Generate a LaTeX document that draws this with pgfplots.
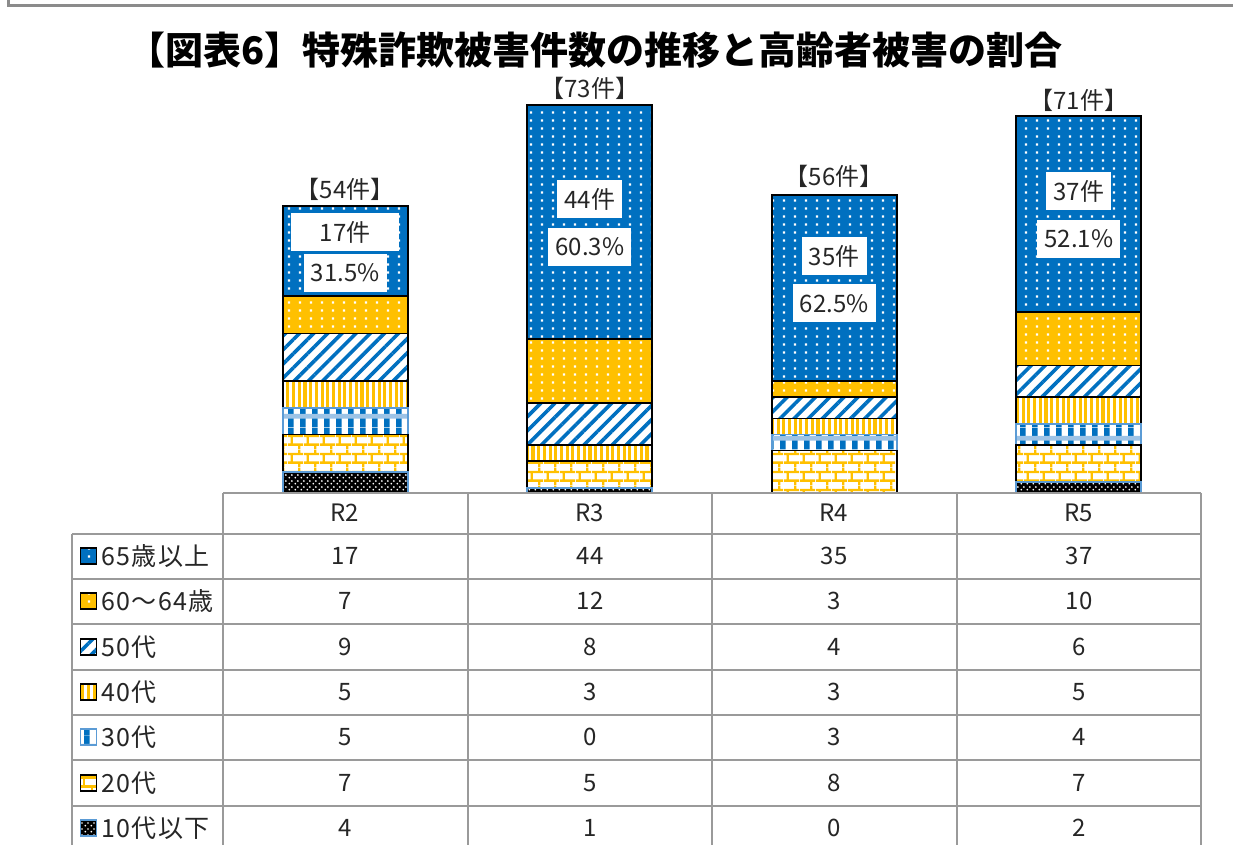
\documentclass[border=0pt]{standalone}
\usepackage{fontspec}
\setmainfont{Noto Sans CJK JP}
\newfontfamily\rowfont{Noto Sans CJK JP}[LetterSpace=5]
\usepackage{pgfplots}
\pgfplotsset{compat=1.18}
\usetikzlibrary{patterns.meta}
\definecolor{cblue}{HTML}{0070C0}
\definecolor{cgold}{HTML}{FFC000}
\definecolor{clb}{HTML}{5B9BD5}
\definecolor{cgrid}{HTML}{9A9A9A}
\definecolor{ctext}{HTML}{262626}
\newcommand\fs[1]{\fontsize{#1}{#1}\selectfont}

\pgfdeclarepattern{
  name=MyDots, type=uncolored,
  bottom left={\pgfpoint{0pt}{0pt}}, top right={\pgfpoint{10.5pt}{7.5pt}},
  tile size={\pgfpoint{10.5pt}{7.5pt}},
  code={
    \pgfpathrectangle{\pgfpoint{4.1pt}{2.6pt}}{\pgfpoint{2.3pt}{2.3pt}}
    \pgfusepath{fill}
  }
}
\pgfdeclarepattern{
  name=MyFine, type=uncolored,
  bottom left={\pgfpoint{0pt}{0pt}}, top right={\pgfpoint{6pt}{6pt}},
  tile size={\pgfpoint{6pt}{6pt}},
  code={
    \pgfpathcircle{\pgfpoint{1.5pt}{1.5pt}}{1.05pt}
    \pgfpathcircle{\pgfpoint{4.5pt}{4.5pt}}{1.05pt}
    \pgfusepath{fill}
  }
}
\pgfdeclarepattern{
  name=MyBricks, type=uncolored,
  bottom left={\pgfpoint{0pt}{0pt}}, top right={\pgfpoint{16pt}{18pt}},
  tile size={\pgfpoint{16pt}{18pt}},
  code={
    \pgfsetlinewidth{2.5pt}
    \pgfpathmoveto{\pgfpoint{0pt}{4.5pt}}\pgfpathlineto{\pgfpoint{16pt}{4.5pt}}
    \pgfpathmoveto{\pgfpoint{0pt}{13.5pt}}\pgfpathlineto{\pgfpoint{16pt}{13.5pt}}
    \pgfpathmoveto{\pgfpoint{4pt}{4.5pt}}\pgfpathlineto{\pgfpoint{4pt}{13.5pt}}
    \pgfpathmoveto{\pgfpoint{12pt}{13.5pt}}\pgfpathlineto{\pgfpoint{12pt}{18pt}}
    \pgfpathmoveto{\pgfpoint{12pt}{0pt}}\pgfpathlineto{\pgfpoint{12pt}{4.5pt}}
    \pgfusepath{stroke}
  }
}
\pgfdeclarepattern{
  name=MyThirty, type=colored,
  bottom left={\pgfpoint{0pt}{0pt}}, top right={\pgfpoint{12pt}{22pt}},
  tile size={\pgfpoint{12pt}{22pt}},
  code={
    \pgfsetfillcolor{cblue}
    \pgfpathrectangle{\pgfpoint{0pt}{0pt}}{\pgfpoint{6pt}{22pt}}
    \pgfusepath{fill}
    \pgfsetfillcolor{clb!60}
    \pgfpathrectangle{\pgfpoint{0pt}{8.5pt}}{\pgfpoint{12pt}{5pt}}
    \pgfusepath{fill}
  }
}

\tikzset{
  pA/.style={preaction={fill=cblue}, preaction={pattern=MyDots, pattern color=white}},
  pB/.style={preaction={fill=cgold}, preaction={pattern=MyDots, pattern color=white}},
  pC/.style={preaction={fill=white}, preaction={pattern={Lines[angle=45, distance=10pt, line width=3.6pt]}, pattern color=cblue}},
  pD/.style={preaction={fill=cgold}, preaction={pattern={Lines[angle=90, distance=5.7pt, line width=2.6pt]}, pattern color=white}},
  pE/.style={preaction={fill=white}, preaction={pattern=MyThirty}},
  pF/.style={preaction={fill=white}, preaction={pattern=MyBricks, pattern color=cgold}},
  pG/.style={preaction={fill=black}, preaction={pattern=MyFine, pattern color=white}},
  lbl/.style={font=\fs{24}, text=ctext},
  box/.style={font=\fs{24}, text=ctext, fill=white, inner xsep=7pt, minimum height=38pt},
}

\begin{document}
\begin{tikzpicture}[x=1pt,y=1pt]
\useasboundingbox (0,0) rectangle (1233,845);
\fill[white] (0,0) rectangle (1233,845);

\begin{axis}[
  at={(223pt,352pt)}, anchor=south west,
  scale only axis, width=978pt, height=425.2pt,
  xmin=-0.5, xmax=3.5, ymin=0, ymax=80,
  hide axis, clip=false,
  ybar stacked, bar width=125pt,
]
\addplot[draw=clb, line width=1.8pt, pG] coordinates {(0,4) (1,1) (2,0) (3,2)};
\addplot[draw=black, line width=1.8pt, pF] coordinates {(0,7) (1,5) (2,8) (3,7)};
\addplot[draw=clb, line width=1.8pt, pE] coordinates {(0,5) (1,0) (2,3) (3,4)};
\addplot[draw=black, line width=1.8pt, pD] coordinates {(0,5) (1,3) (2,3) (3,5)};
\addplot[draw=black, line width=1.8pt, pC] coordinates {(0,9) (1,8) (2,4) (3,6)};
\addplot[draw=black, line width=1.8pt, pB] coordinates {(0,7) (1,12) (2,3) (3,10)};
\addplot[draw=black, line width=1.8pt, pA] coordinates {(0,17) (1,44) (2,35) (3,37)};

\node[lbl] at (axis cs:0,57.2) {【54件】};
\node[lbl] at (axis cs:1,76.2) {【73件】};
\node[lbl] at (axis cs:2,59.6) {【56件】};
\node[lbl] at (axis cs:3,73.8) {【71件】};

\coordinate (a0) at (axis cs:0,49.1);
\coordinate (b0) at (axis cs:0,41.4);
\coordinate (a1) at (axis cs:1,55.3);
\coordinate (b1) at (axis cs:1,46.3);
\coordinate (a2) at (axis cs:2,44.6);
\coordinate (b2) at (axis cs:2,35.7);
\coordinate (a3) at (axis cs:3,56.8);
\coordinate (b3) at (axis cs:3,47.8);
\end{axis}

\node[box, minimum width=108pt] at (a0) {17件};
\node[box] at (b0) {31.5\%};
\node[box] at (a1) {44件};
\node[box] at (b1) {60.3\%};
\node[box] at (a2) {35件};
\node[box] at (b2) {62.5\%};
\node[box] at (a3) {37件};
\node[box] at (b3) {52.1\%};

% title
\node[font=\fs{38}\bfseries, text=black] at (595,795) {【図表6】特殊詐欺被害件数の推移と高齢者被害の割合};

% frame
\draw[cgrid!90!black, line width=3pt] (8,845) -- (8,839) -- (1233,839);

% table grid
\begin{scope}[cgrid, line width=2.4pt]
\draw (223,352) -- (1201,352);
\foreach \py in {534,579,624,670,715,760,806} {\draw (72,845-\py) -- (1201,845-\py);}
\draw (72,311) -- (72,-5);
\foreach \px in {223,468,712,957,1201} {\draw (\px,352) -- (\px,-5);}
\end{scope}

% header
\foreach \x/\t in {345/R2,590/R3,834/R4,1079/R5} {\node[lbl] at (\x,332) {\t};}

% row labels with keys
\foreach \y/\t/\s/\c in {289/65歳以上/pA/black, 244/60～64歳/pB/black, 198/50代/pC/black, 153/40代/pD/black, 108/30代/pE/clb, 62/20代/pF/black, 17/10代以下/pG/clb} {
  \node[font=\rowfont\fs{25}, text=ctext, anchor=west] at (98,\y) {\t};
  \draw[\s, draw=\c, line width=1.6pt] (80.5,\y-8) rectangle (96.5,\y+8);
}

% values
\foreach \y/\a/\b/\c/\d in {289/17/44/35/37, 244/7/12/3/10, 198/9/8/4/6, 153/5/3/3/5, 108/5/0/3/4, 62/7/5/8/7, 17/4/1/0/2} {
  \node[lbl] at (345,\y) {\a};
  \node[lbl] at (590,\y) {\b};
  \node[lbl] at (834,\y) {\c};
  \node[lbl] at (1079,\y) {\d};
}
\end{tikzpicture}
\end{document}
